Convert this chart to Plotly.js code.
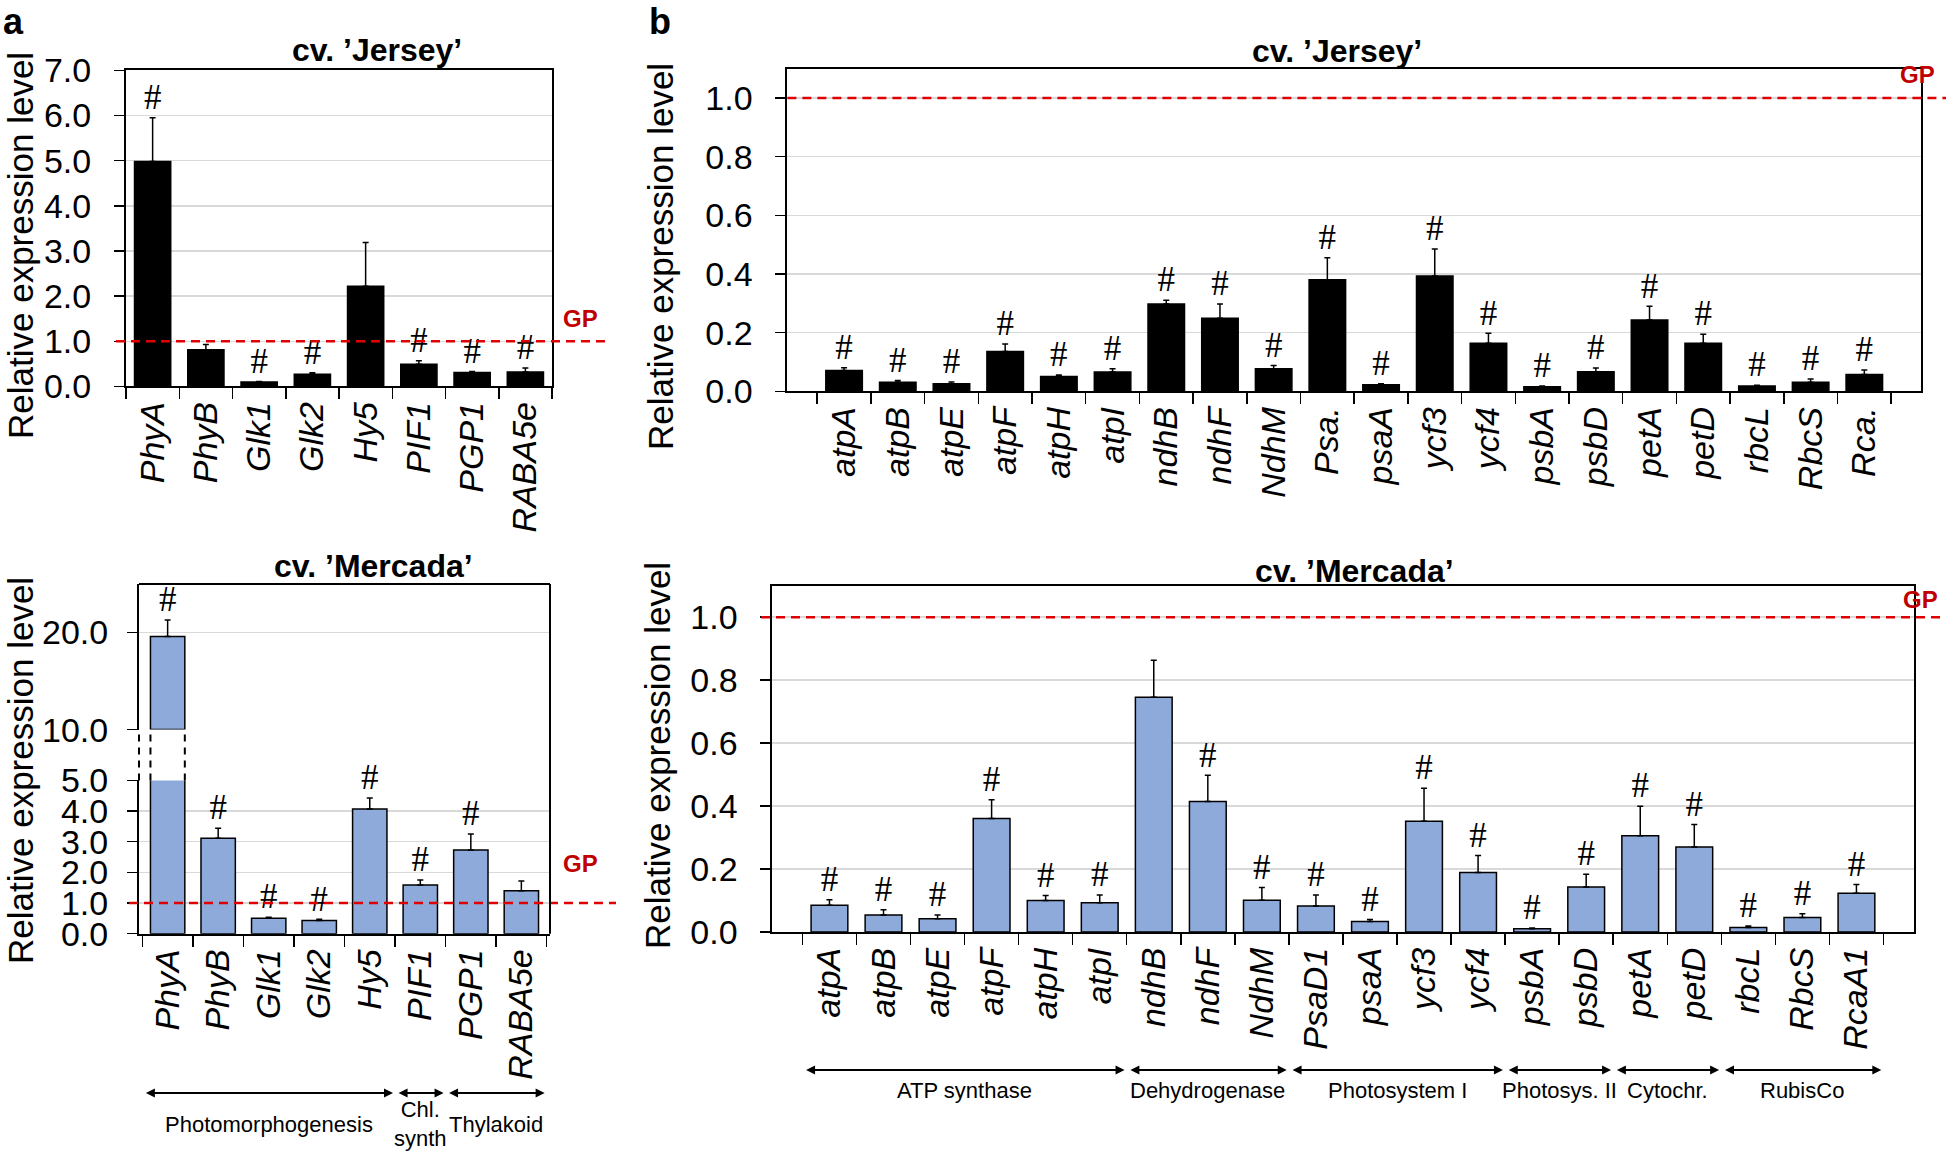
<!DOCTYPE html>
<html><head><meta charset="utf-8">
<script src="https://cdn.plot.ly/plotly-3.0.1.min.js"></script>
<style>html,body{margin:0;padding:0;background:#fff}#chart{width:1946px;height:1153px}</style>
</head><body><div id="chart"></div>
<script>
// ---------------- DATA ----------------
const genesA = ['PhyA','PhyB','Glk1','Glk2','Hy5','PIF1','PGP1','RABA5e'];
const jerseyA = [4.98, 0.81, 0.095, 0.27, 2.22, 0.49, 0.31, 0.32];
const jerseyAErr = [0.97, 0.12, 0.015, 0.03, 0.97, 0.08, 0.02, 0.09];
const jerseyASig = [1, 0, 1, 1, 0, 1, 1, 1];
const mercadaA = [19.6, 3.11, 0.50, 0.43, 4.07, 1.59, 2.73, 1.40];
const mercadaAErr = [1.7, 0.33, 0.04, 0.04, 0.36, 0.16, 0.52, 0.32];
const mercadaASig = [1, 1, 1, 1, 1, 1, 1, 0];
const groupsA = ['Photomorphogenesis', 'Chl.<br>synth', 'Thylakoid'];
const groupsASize = [5, 1, 2];

const genesBJersey = ['atpA','atpB','atpE','atpF','atpH','atpI','ndhB','ndhF','NdhM','Psa.','psaA','ycf3','ycf4','psbA','psbD','petA','petD','rbcL','RbcS','Rca.'];
const genesBMercada = ['atpA','atpB','atpE','atpF','atpH','atpI','ndhB','ndhF','NdhM','PsaD1','psaA','ycf3','ycf4','psbA','psbD','petA','petD','rbcL','RbcS','RcaA1'];
const jerseyB = [0.071,0.031,0.026,0.136,0.051,0.066,0.298,0.249,0.077,0.381,0.023,0.393,0.164,0.016,0.067,0.243,0.164,0.018,0.031,0.058];
const jerseyBErr = [0.010,0.006,0.006,0.026,0.005,0.011,0.013,0.049,0.011,0.075,0.003,0.092,0.034,0.002,0.013,0.047,0.031,0.003,0.011,0.015];
const jerseyBSig = [1,1,1,1,1,1,1,1,1,1,1,1,1,1,1,1,1,1,1,1];
const mercadaB = [0.085,0.054,0.042,0.361,0.100,0.093,0.746,0.415,0.101,0.083,0.034,0.352,0.189,0.011,0.143,0.306,0.270,0.015,0.046,0.123];
const mercadaBErr = [0.018,0.017,0.012,0.059,0.016,0.025,0.117,0.083,0.041,0.035,0.006,0.105,0.054,0.002,0.041,0.094,0.072,0.004,0.012,0.028];
const mercadaBSig = [1,1,1,1,1,1,0,1,1,1,1,1,1,1,1,1,1,1,1,1];
const groupsB = ['ATP synthase','Dehydrogenase','Photosystem I','Photosys. II','Cytochr.','RubisCo'];
const groupsBSize = [6, 3, 4, 2, 2, 3];

const gpLevel = 1.0;
const yTitle = 'Relative expression level';
const titleJersey = 'cv. \u2019Jersey\u2019';
const titleMercada = 'cv. \u2019Mercada\u2019';

// ---------------- LAYOUT HELPERS ----------------
const W = 1946, H = 1153;
const px = v => v / W;
const py = v => 1 - v / H;
const FONT = 'Liberation Sans, Arial, sans-serif';
const BLACK = '#000000';
const BLUE = '#8eaadb';
const GRID = '#d9d9d9';
const RED = '#c00000';
const bargap = 0.32;
const halfBar = (1 - bargap) / 2;
const breakLow = 5, breakHigh = 10, upperMax = 25;

function bar(x, y, err, xa, ya, color, extra) {
  return Object.assign({
    type: 'bar', x: x, y: y, xaxis: xa, yaxis: ya,
    marker: {color: color, line: {color: BLACK, width: 1.5}},
    error_y: {type: 'data', symmetric: false, array: err, arrayminus: err.map(() => 0),
              color: BLACK, thickness: 1.5, width: 3},
    hoverinfo: 'x+y', showlegend: false
  }, extra || {});
}
function hashes(x, y, err, sig, xa, ya, keep) {
  const xs = [], ys = [];
  x.forEach((c, i) => { if (sig[i] && (!keep || keep(y[i] + err[i], y[i]))) { xs.push(c); ys.push(y[i] + err[i]); } });
  return {type: 'scatter', mode: 'text', x: xs, y: ys, text: xs.map(() => '#'),
          textposition: 'top center', textfont: {family: 'Liberation Serif, Times New Roman, serif', size: 35, color: BLACK},
          cliponaxis: false, xaxis: xa, yaxis: ya, hoverinfo: 'skip', showlegend: false};
}

const traces = [
  bar(genesA, jerseyA, jerseyAErr, 'x', 'y', BLACK),
  hashes(genesA, jerseyA, jerseyAErr, jerseyASig, 'x', 'y'),
  bar(genesA, mercadaA, mercadaAErr, 'x2', 'y2', BLUE),
  bar(genesA, mercadaA.map(v => v > breakHigh ? v - breakHigh : null), mercadaAErr, 'x2', 'y3', BLUE, {base: breakHigh}),
  hashes(genesA, mercadaA, mercadaAErr, mercadaASig, 'x2', 'y2', (t) => t <= breakLow),
  hashes(genesA, mercadaA, mercadaAErr, mercadaASig, 'x2', 'y3', (t, v) => v > breakHigh),
  bar(genesBJersey, jerseyB, jerseyBErr, 'x3', 'y4', BLACK),
  hashes(genesBJersey, jerseyB, jerseyBErr, jerseyBSig, 'x3', 'y4'),
  bar(genesBMercada, mercadaB, mercadaBErr, 'x4', 'y5', BLUE),
  hashes(genesBMercada, mercadaB, mercadaBErr, mercadaBSig, 'x4', 'y5')
];

const xtickfont = {family: FONT, size: 34, style: 'italic', color: BLACK};
const ytickfont = {family: FONT, size: 34, color: BLACK};
function xax(d0, d1, anchor) {
  return {domain: [px(d0), px(d1)], anchor: anchor, type: 'category', tickangle: -90,
          tickfont: xtickfont, ticks: 'outside', tickson: 'boundaries', ticklen: 11, tickwidth: 1.5,
          tickcolor: BLACK, showline: true, linecolor: BLACK, linewidth: 2, showgrid: false,
          automargin: false, fixedrange: true};
}
function yax(top, bottom, anchor, range, extra) {
  return Object.assign({domain: [py(bottom), py(top)], anchor: anchor, range: range,
          tickfont: ytickfont, tickformat: '.1f', ticks: 'outside', ticklen: 10, tickwidth: 1.5,
          ticklabelstandoff: 16,
          tickcolor: BLACK, showline: true, linecolor: BLACK, linewidth: 2, showgrid: true,
          gridcolor: GRID, gridwidth: 1.5, zeroline: false, automargin: false, fixedrange: true}, extra || {});
}

// subplot geometry (pixels)
const A1 = {l: 126, r: 552, t: 70.4, b: 386.4};
const A2 = {l: 139, r: 550, t: 584, bLow: 933.7, tLow: 780.4, bUp: 729.6};
const B1 = {l: 787.4, r: 1921, t: 68.7, b: 391.4};
const B2 = {l: 772.4, r: 1913.5, t: 585.7, b: 932.1};

const layout = {
  width: W, height: H, margin: {l: 0, r: 0, t: 0, b: 0},
  paper_bgcolor: '#fff', plot_bgcolor: 'rgba(0,0,0,0)',
  bargap: bargap, showlegend: false,
  font: {family: FONT, color: BLACK},
  xaxis: Object.assign(xax(A1.l, A1.r, 'y'), {mirror: true}),
  yaxis: yax(A1.t, A1.b, 'x', [0, 7], {dtick: 1, mirror: true}),
  xaxis2: xax(A2.l, A2.r, 'y2'),
  yaxis2: yax(A2.tLow, A2.bLow, 'x2', [0, breakLow], {dtick: 1, ticklabelstandoff: 12}),
  yaxis3: yax(A2.t, A2.bUp, 'x2', [breakHigh, upperMax], {tickvals: [10, 20], ticklabelstandoff: 12}),
  xaxis3: Object.assign(xax(B1.l, B1.r, 'y4'), {mirror: true}),
  yaxis4: yax(B1.t, B1.b, 'x3', [0, 1.1], {tickvals: [0, 0.2, 0.4, 0.6, 0.8, 1.0], mirror: true}),
  xaxis4: Object.assign(xax(B2.l, B2.r, 'y5'), {mirror: true}),
  yaxis5: yax(B2.t, B2.b, 'x4', [0, 1.1], {tickvals: [0, 0.2, 0.4, 0.6, 0.8, 1.0], mirror: true}),
  shapes: [],
  annotations: []
};

// GP reference lines
const gpDash = {color: '#e00000', width: 2.6, dash: '9px,6px'};
layout.shapes.push({type: 'line', xref: 'paper', yref: 'y', x0: px(116), x1: px(606), y0: gpLevel, y1: gpLevel, line: gpDash});
layout.shapes.push({type: 'line', xref: 'paper', yref: 'y2', x0: px(129), x1: px(616), y0: gpLevel, y1: gpLevel, line: gpDash});
layout.shapes.push({type: 'line', xref: 'paper', yref: 'y4', x0: px(B1.l), x1: 1, y0: gpLevel, y1: gpLevel, line: gpDash});
layout.shapes.push({type: 'line', xref: 'paper', yref: 'y5', x0: px(761), x1: 1, y0: gpLevel, y1: gpLevel, line: gpDash});

// broken-axis frame for Mercada (a)
const frame = {color: BLACK, width: 2};
layout.shapes.push({type: 'line', xref: 'paper', yref: 'paper', x0: px(A2.l), x1: px(A2.r), y0: py(A2.t), y1: py(A2.t), line: frame});
layout.shapes.push({type: 'line', xref: 'paper', yref: 'paper', x0: px(A2.r), x1: px(A2.r), y0: py(A2.t), y1: py(A2.bLow), line: frame});
const gapDash = {color: BLACK, width: 2, dash: '7px,6px'};
layout.shapes.push({type: 'line', xref: 'paper', yref: 'paper', x0: px(A2.l), x1: px(A2.l), y0: py(A2.tLow), y1: py(A2.bUp), line: gapDash});
layout.shapes.push({type: 'line', xref: 'x2', yref: 'paper', x0: -halfBar, x1: -halfBar, y0: py(A2.tLow), y1: py(A2.bUp), line: gapDash});
layout.shapes.push({type: 'line', xref: 'x2', yref: 'paper', x0: halfBar, x1: halfBar, y0: py(A2.tLow), y1: py(A2.bUp), line: gapDash});

// texts
function ann(text, x, y, size, extra) {
  return Object.assign({text: text, xref: 'paper', yref: 'paper', x: px(x), y: py(y), showarrow: false,
                        xanchor: 'center', yanchor: 'middle', font: {family: FONT, size: size, color: BLACK}}, extra || {});
}
layout.annotations.push(ann('<b>a</b>', 2, 0, 36, {xanchor: 'left', yanchor: 'top', borderpad: 0}));
layout.annotations.push(ann('<b>b</b>', 648, 0, 36, {xanchor: 'left', yanchor: 'top', borderpad: 0}));
layout.annotations.push(ann('<b>' + titleJersey + '</b>', 377, 50, 32));
layout.annotations.push(ann('<b>' + titleMercada + '</b>', 373, 566, 32));
layout.annotations.push(ann('<b>' + titleJersey + '</b>', 1337, 51, 32));
layout.annotations.push(ann('<b>' + titleMercada + '</b>', 1354, 571, 32));
[[20, 246], [20, 771], [660, 257], [657, 756]].forEach(p => layout.annotations.push(ann(yTitle, p[0], p[1], 35, {textangle: -90, borderpad: 0})));
const gpFont = {family: FONT, size: 24, color: RED};
[[580, 318], [580, 864], [1917, 74], [1920, 599]].forEach(p => layout.annotations.push(ann('<b>GP</b>', p[0], p[1], 24, {font: gpFont})));

// group arrows + labels
function groups(names, sizes, xa, yArrow, yLabel) {
  let start = 0;
  names.forEach((n, i) => {
    const s = start - 0.5 + 0.04, e = start + sizes[i] - 0.5 - 0.04;
    layout.annotations.push({xref: xa, yref: 'paper', x: e, y: py(yArrow), axref: xa, ax: s, ayref: 'pixel', ay: 0,
      text: '', showarrow: true, arrowside: 'end+start', arrowhead: 2, arrowsize: 1, arrowwidth: 1.8,
      arrowcolor: BLACK, standoff: 0, startstandoff: 0});
    layout.annotations.push({xref: xa, yref: 'paper', x: (s + e) / 2, y: py(yLabel), text: n, showarrow: false,
      xanchor: 'center', yanchor: 'middle', font: {family: FONT, size: 22, color: BLACK}});
    start += sizes[i];
  });
}
groups(groupsA, groupsASize, 'x2', 1093, 1124);
groups(groupsB, groupsBSize, 'x4', 1070, 1090);

Plotly.newPlot('chart', traces, layout, {displayModeBar: false, staticPlot: true});
</script>
</body></html>
